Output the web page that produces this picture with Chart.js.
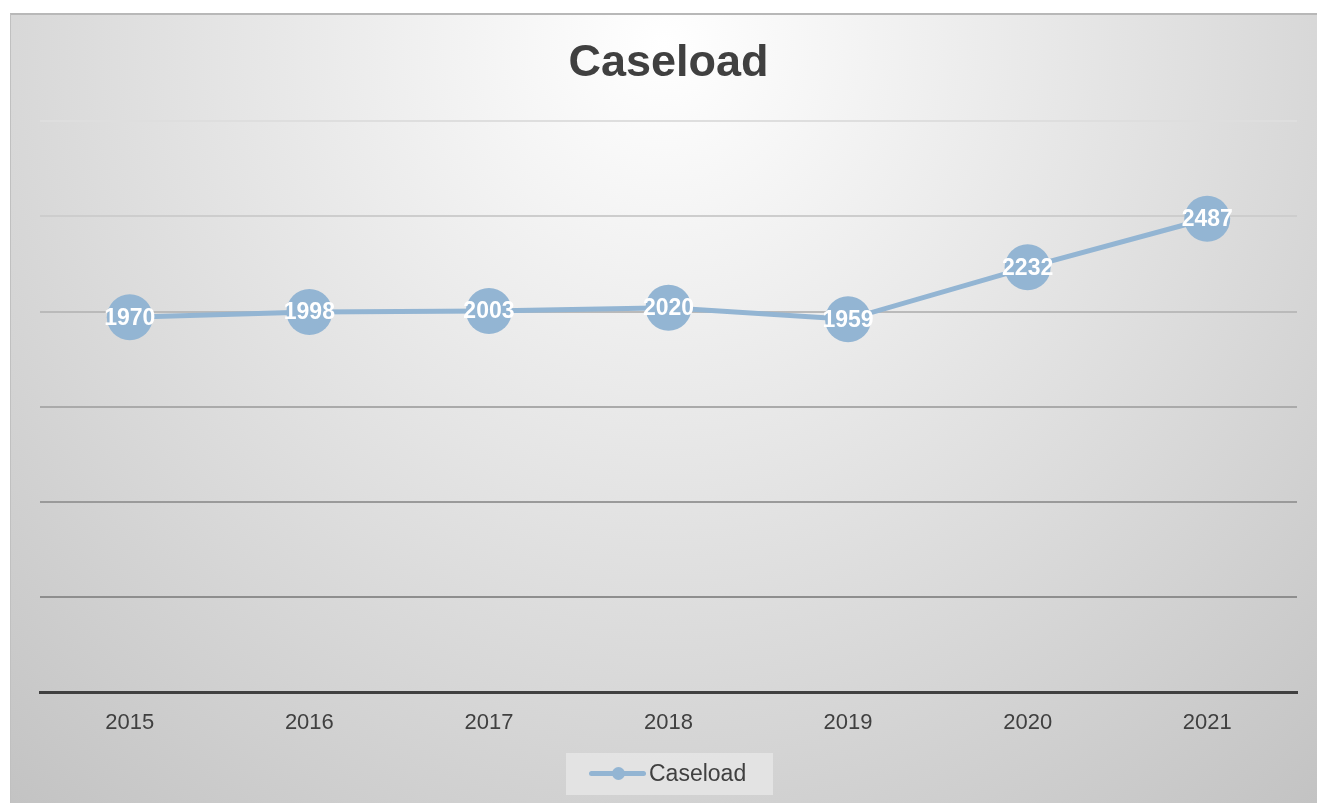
<!DOCTYPE html>
<html>
<head>
<meta charset="utf-8">
<script src="https://cdn.jsdelivr.net/npm/chart.js@4"></script>
<style>
  html, body { margin: 0; padding: 0; background: #ffffff; }
  #frame {
    position: absolute; left: 10px; top: 13px; width: 1307px; height: 790px;
    box-sizing: border-box; border-top: 2px solid #b8b8b8; border-left: 1px solid #c0c0c0;
  }
  #frame canvas { position: absolute; left: 0; top: 0; }
  #legend {
    position: absolute; left: 555px; top: 738px; width: 207px; height: 42px;
    background: rgba(232, 232, 232, 0.75);
    font-family: 'Liberation Sans', Arial, sans-serif; font-size: 23px; color: #404040;
  }
  #legend .line { position: absolute; left: 23px; top: 18px; width: 57px; height: 5px; border-radius: 3px; background: #93b5d3; }
  #legend .dot { position: absolute; left: 46px; top: 14px; width: 13px; height: 13px; border-radius: 50%; background: #93b5d3; }
  #legend .txt { position: absolute; left: 83px; top: 7px; }
</style>
</head>
<body>
<div id="frame">
  <canvas id="caseChart" width="1306" height="788"></canvas>
  <div id="legend"><span class="line"></span><span class="dot"></span><span class="txt">Caseload</span></div>
</div>
<script>
const years = ['2015', '2016', '2017', '2018', '2019', '2020', '2021'];
const caseload = [1970, 1998, 2003, 2020, 1959, 2232, 2487];
const yTicks = [0, 500, 1000, 1500, 2000, 2500, 3000];

const gridColors = ['rgba(0,0,0,0)', '#8e8e8e', '#9a9a9a', '#aaaaaa', '#bababa', '#cdcdcd', '#dedede'];
const fontFamily = "'Liberation Sans', Arial, Helvetica, sans-serif";

// radial grey background behind the whole chart
const backgroundPlugin = {
  id: 'bgGradient',
  beforeDraw(chart) {
    const ctx = chart.ctx;
    const w = chart.width, h = chart.height;
    const g = ctx.createRadialGradient(w / 2, 30, 0, w / 2, 30, 1000);
    g.addColorStop(0, '#ffffff');
    g.addColorStop(1, '#c3c3c3');
    ctx.save();
    ctx.fillStyle = g;
    ctx.fillRect(0, 0, w, h);
    ctx.restore();
  }
};

// white value labels in the middle of each marker
const valueLabels = {
  id: 'valueLabels',
  afterDatasetsDraw(chart) {
    const ctx = chart.ctx;
    const meta = chart.getDatasetMeta(0);
    ctx.save();
    ctx.fillStyle = '#ffffff';
    ctx.font = 'bold 23px ' + fontFamily;
    ctx.textAlign = 'center';
    ctx.textBaseline = 'middle';
    meta.data.forEach((pt, i) => {
      ctx.fillText(String(chart.data.datasets[0].data[i]), pt.x, pt.y + 1);
    });
    ctx.restore();
  }
};

const ctx = document.getElementById('caseChart').getContext('2d');
new Chart(ctx, {
  type: 'line',
  data: {
    labels: years,
    datasets: [{
      label: 'Caseload',
      data: caseload,
      borderColor: '#93b5d3',
      backgroundColor: '#93b5d3',
      borderWidth: 5,
      tension: 0,
      pointRadius: 23,
      pointHoverRadius: 23,
      pointBorderWidth: 0,
      pointBackgroundColor: '#93b5d3'
    }]
  },
  options: {
    responsive: false,
    animation: false,
    layout: { autoPadding: false, padding: { left: 29, right: 20, top: 0, bottom: 50 } },
    plugins: {
      legend: { display: false },
      tooltip: { enabled: false },
      title: {
        display: true,
        text: 'Caseload',
        color: '#404040',
        font: { family: fontFamily, size: 45, weight: 'bold', lineHeight: 1.2 },
        padding: { top: 22, bottom: 30 }
      }
    },
    scales: {
      x: {
        offset: true,
        grid: { display: false, drawTicks: false },
        border: { display: true, color: '#404040', width: 3 },
        ticks: { color: '#404040', padding: 17, font: { family: fontFamily, size: 22 } }
      },
      y: {
        min: 0,
        max: 3000,
        afterBuildTicks(scale) { scale.ticks = yTicks.map(v => ({ value: v })); },
        ticks: { display: false },
        border: { display: false },
        grid: {
          drawTicks: false,
          lineWidth: 2,
          color: c => gridColors[c.index] || '#cccccc'
        }
      }
    }
  },
  plugins: [backgroundPlugin, valueLabels]
});
</script>
</body>
</html>
